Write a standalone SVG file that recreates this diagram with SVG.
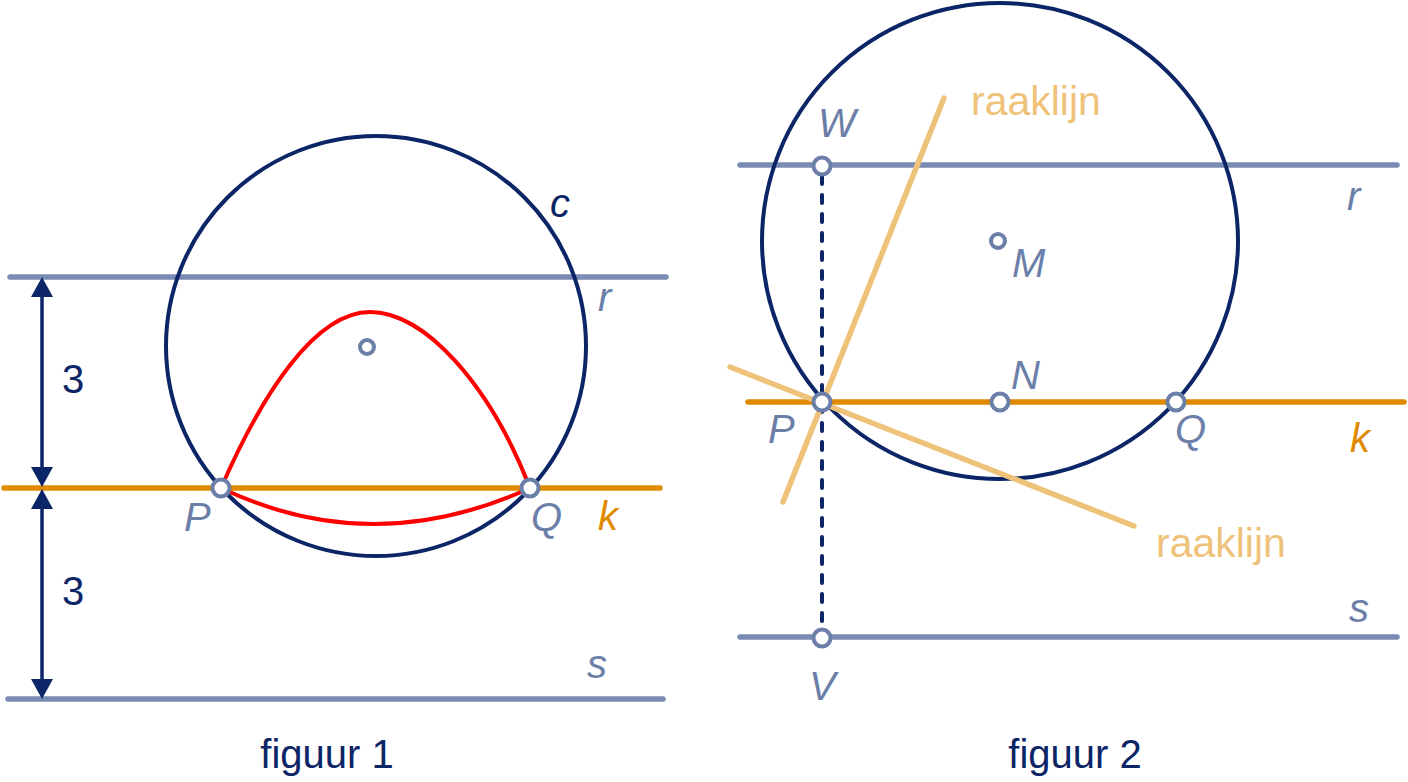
<svg xmlns="http://www.w3.org/2000/svg" width="1408" height="782" viewBox="0 0 1408 782">
<defs>
<style>
.circ{fill:none;stroke:#0b2566;stroke-width:4}
.gl{stroke:#7a8cb3;stroke-width:5.5;stroke-linecap:round}
.ol{stroke:#e08a00;stroke-width:5.5;stroke-linecap:round}
.tl{stroke:#efc27a;stroke-width:5.5;stroke-linecap:round}
.pt{fill:#fff;stroke:#6b7fa8;stroke-width:4}
.lbl{font-family:"Liberation Sans",Arial,sans-serif;font-style:italic;font-size:40px;fill:#6b7fa8}
.txt{font-family:"Liberation Sans",Arial,sans-serif;font-size:40px;fill:#0b2566}
.tt{font-family:"Liberation Sans",Arial,sans-serif;font-size:41px;fill:#efc27a}
.ah{fill:#0b2566}
</style>
</defs>
<rect width="1408" height="782" fill="#fff"/>
<g id="figure1">
<g id="lines1">
<line class="gl" x1="10" y1="277" x2="666" y2="277"/>
<line class="gl" x1="8" y1="699" x2="663" y2="699"/>
<circle id="c1" class="circ" cx="376" cy="346" r="210"/>
<line class="ol" x1="4" y1="488" x2="660" y2="488"/>
</g>
<g id="dims">
<line x1="42" y1="290" x2="42" y2="475" stroke="#0b2566" stroke-width="3.5"/>
<line x1="42" y1="500" x2="42" y2="686" stroke="#0b2566" stroke-width="3.5"/>
<polygon class="ah" points="42,277 53,297 31,297"/>
<polygon class="ah" points="42,487 53,467 31,467"/>
<polygon class="ah" points="42,489 53,509 31,509"/>
<polygon class="ah" points="42,699 53,679 31,679"/>
<text class="txt" x="62" y="393">3</text>
<text class="txt" x="62" y="605">3</text>
</g>
<g id="redcurve">
<path d="M221,488 C262,394 315,312 370,312 C425,312 490,385 530,488" fill="none" stroke="#ff0000" stroke-width="4"/>
<path d="M221,488 Q372,560 530,488" fill="none" stroke="#ff0000" stroke-width="4"/>
</g>
<circle id="center1" class="pt" cx="367" cy="347" r="7"/>
<circle id="P1" class="pt" cx="221" cy="488" r="8.5"/>
<circle id="Q1" class="pt" cx="530" cy="488" r="8.5"/>
<text class="lbl" x="184" y="531">P</text>
<text class="lbl" x="531" y="531">Q</text>
<text class="lbl" x="598" y="530" style="fill:#e08a00">k</text>
<text class="lbl" x="598" y="311">r</text>
<text class="lbl" x="587" y="678">s</text>
<text class="lbl" x="550" y="217" style="fill:#0b2566">c</text>
<text class="txt" x="327" y="768" text-anchor="middle">figuur 1</text>
</g>
<g id="figure2">
<g id="lines2">
<line class="gl" x1="740" y1="165" x2="1397" y2="165"/>
<line class="gl" x1="740" y1="637" x2="1397" y2="637"/>
<circle id="c2" class="circ" cx="1000" cy="241" r="238"/>
<line x1="822" y1="176" x2="822" y2="627" stroke="#0b2566" stroke-width="4" stroke-dasharray="8,11" stroke-linecap="round"/>
<line class="ol" x1="748" y1="402" x2="1404" y2="402"/>
<line class="tl" x1="783" y1="502" x2="944" y2="98"/>
<line class="tl" x1="730" y1="367" x2="1134" y2="526"/>
</g>
<circle id="W" class="pt" cx="822" cy="166" r="8.5"/>
<circle id="V" class="pt" cx="822" cy="638" r="8.5"/>
<circle id="P2" class="pt" cx="822" cy="402" r="8.5"/>
<circle id="N" class="pt" cx="1000" cy="402" r="8.5"/>
<circle id="Q2" class="pt" cx="1176" cy="402" r="8.5"/>
<circle id="M" class="pt" cx="998" cy="241" r="7"/>
<text class="lbl" x="818" y="137">W</text>
<text class="lbl" x="809" y="700">V</text>
<text class="lbl" x="768" y="443">P</text>
<text class="lbl" x="1175" y="443">Q</text>
<text class="lbl" x="1011" y="389">N</text>
<text class="lbl" x="1012" y="277">M</text>
<text class="lbl" x="1347" y="210">r</text>
<text class="lbl" x="1349" y="622">s</text>
<text class="lbl" x="1350" y="452" style="fill:#e08a00">k</text>
<text class="tt" x="971" y="115">raaklijn</text>
<text class="tt" x="1156" y="557">raaklijn</text>
<text class="txt" x="1075" y="768" text-anchor="middle">figuur 2</text>
</g>
</svg>
